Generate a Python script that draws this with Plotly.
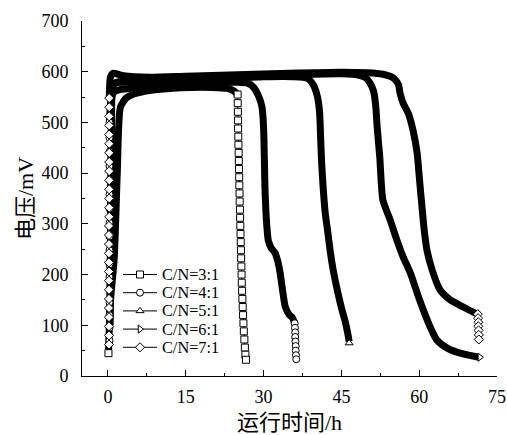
import plotly.graph_objects as go

# ---------------- data ----------------
NAMES = ["C/N=3:1", "C/N=4:1", "C/N=5:1", "C/N=6:1", "C/N=7:1"]
X_TICKS = [0, 15, 30, 45, 60, 75]
Y_TICKS = [0, 100, 200, 300, 400, 500, 600, 700]

# C/N=3:1 (squares)
T31_BAND = [0.1, 0.5, 1.2, 1.8, 2.4, 3.5, 5.0, 8.0, 12.0, 16.0, 20.0, 23.0, 24.3, 25.0]
V31_BAND = [45, 150, 230, 400, 530, 548, 556, 563, 567, 569, 569, 567, 562, 555]
T31_MARK = [25.0, 25.02, 25.05, 25.08, 25.1, 25.13, 25.16, 25.2, 25.23, 25.26, 25.3, 25.33,
            25.37, 25.4, 25.44, 25.48, 25.52, 25.56, 25.6, 25.64, 25.68, 25.72, 25.76, 25.8,
            25.86, 25.92, 25.98, 26.05, 26.12, 26.2, 26.3, 26.4, 26.5, 26.6]
V31_MARK = [555, 538, 521, 504, 488, 472, 456, 440, 424, 408, 392, 376, 360, 344, 328, 312,
            296, 280, 264, 248, 232, 216, 200, 184, 168, 152, 136, 120, 104, 88, 72, 56, 42, 32]
T31_START = [0.1]
V31_START = [45]

# C/N=4:1 (circles)
T41_COL = [0.3, 0.3, 0.3, 0.3, 0.3, 0.3, 0.3, 0.3, 0.3, 0.3, 0.3, 0.3, 0.3, 0.3, 0.3, 0.3, 0.3]
V41_COL = [70, 95, 120, 145, 170, 195, 220, 248, 275, 302, 330, 358, 386, 414, 442, 470, 500]
T41_BAND = [0.3, 0.6, 1.2, 2.5, 5.0, 10.0, 15.0, 20.0, 25.0, 27.0, 28.0, 29.2, 29.7, 30.0,
            30.3, 30.6, 30.9, 31.5, 32.2, 32.7, 33.2, 34.2, 35.0, 35.5, 36.0]
V41_BAND = [500, 545, 560, 565, 568, 573, 576, 578, 579, 577, 570, 548, 530, 491,
            361, 300, 268, 252, 243, 228, 203, 136, 120, 116, 104]
T41_TAIL = [36.0, 36.05, 36.1, 36.1, 36.15, 36.2, 36.2, 36.25, 36.3]
V41_TAIL = [104, 95, 86, 77, 68, 59, 50, 41, 33]

# C/N=5:1 (triangles up)
T51_BAND = [0.35, 0.6, 0.9, 1.5, 5.0, 10.0, 20.0, 30.0, 36.0, 38.5, 39.2, 39.8, 40.4, 40.8,
            41.0, 41.2, 41.5, 41.9, 42.3, 42.8, 43.4, 44.2, 45.0, 45.8, 46.3, 46.5]
V51_BAND = [100, 450, 570, 578, 580, 582, 586, 590, 590, 587, 580, 570, 550, 520,
            470, 420, 370, 320, 290, 250, 210, 170, 135, 105, 80, 68]
T51_TAIL = [46.5]
V51_TAIL = [65]

# C/N=6:1 (triangles right)
T61_BAND = [0.4, 0.7, 1.0, 2.0, 5.0, 15.0, 25.0, 35.0, 45.0, 48.5, 49.7, 50.5, 51.2, 51.6,
            51.9, 52.4, 53.0, 54.4, 55.7, 56.9, 58.3, 59.6, 60.8, 62.1, 63.4, 65.4, 67.9,
            71.0, 71.5]
V61_BAND = [100, 500, 575, 580, 582, 586, 590, 594, 596, 593, 588, 578, 562, 535,
            491, 432, 347, 308, 268, 235, 203, 164, 130, 97, 71, 55, 45,
            38, 37]
T61_TAIL = [71.7]
V61_TAIL = [37]

# C/N=7:1 (diamonds)
T71_COL = [0.2, 0.2, 0.2, 0.2, 0.2, 0.2, 0.2, 0.2, 0.2, 0.2, 0.2, 0.2, 0.2, 0.2, 0.25, 0.25,
           0.25, 0.25, 0.25, 0.25, 0.25, 0.25, 0.25, 0.25, 0.25, 0.25, 0.25, 0.25]
V71_COL = [62, 80, 98, 116, 134, 152, 170, 188, 206, 224, 242, 260, 278, 296, 314, 332,
           350, 368, 386, 404, 422, 440, 458, 476, 494, 512, 530, 548]
T71_BAND = [0.25, 0.5, 1.0, 3.0, 8.0, 15.0, 25.0, 35.0, 45.0, 50.0, 53.0, 55.0, 56.0, 56.3,
            56.9, 57.9, 58.8, 59.6, 60.0, 60.3, 60.6, 60.9, 61.5, 62.5, 64.0, 66.0, 68.5,
            70.4, 71.3]
V71_BAND = [548, 590, 597, 592, 589, 591, 594, 597, 599, 598, 595, 588, 575, 558,
            538, 518, 485, 440, 395, 360, 327, 294, 248, 209, 170, 150, 136,
            126, 122]
T71_TAIL = [71.3, 71.35, 71.4, 71.4, 71.45, 71.5, 71.5]
V71_TAIL = [122, 114, 106, 98, 90, 81, 72]

# ---------------- styling ----------------
FONT = "Liberation Serif, Times New Roman, Noto Sans CJK SC"
SYMBOLS = ["square", "circle", "triangle-up", "triangle-right", "diamond"]
BAND_W = 7

series = [
    (T31_BAND, V31_BAND, [(T31_START, V31_START), (T31_MARK, V31_MARK)]),
    (T41_BAND, V41_BAND, [(T41_COL, V41_COL), (T41_TAIL, V41_TAIL)]),
    (T51_BAND, V51_BAND, [(T51_TAIL, V51_TAIL)]),
    (T61_BAND, V61_BAND, [(T61_TAIL, V61_TAIL)]),
    (T71_BAND, V71_BAND, [(T71_COL, V71_COL), (T71_TAIL, V71_TAIL)]),
]

fig = go.Figure()

# thick bands (dense overlapping markers in the original)
for name, (tb, vb, _) in zip(NAMES, series):
    fig.add_trace(go.Scatter(x=tb, y=vb, mode="lines", name=name, showlegend=False,
                             line=dict(color="black", width=BAND_W, shape="spline",
                                       smoothing=0.6)))

# sparse visible markers
for name, sym, (_, _, marks) in zip(NAMES, SYMBOLS, series):
    for tm, vm in marks:
        fig.add_trace(go.Scatter(x=tm, y=vm, mode="lines+markers", name=name,
                                 showlegend=False,
                                 line=dict(color="black", width=1),
                                 marker=dict(symbol=sym, size=7, color="white",
                                             line=dict(color="black", width=1))))

# ---------------- custom legend (tight row spacing as in the original) ----------------
LEG_ROW0 = 274.5    # pixel rows on the overlay axis
LEG_STEP = 18.2
LEG_X0, LEG_XM, LEG_X1, LEG_TX = 123, 140, 157, 161
for i, (name, sym) in enumerate(zip(NAMES, SYMBOLS)):
    yy = LEG_ROW0 + i * LEG_STEP
    fig.add_trace(go.Scatter(x=[LEG_X0, LEG_X1], y=[yy, yy], mode="lines", xaxis="x2",
                             yaxis="y2", showlegend=False, hoverinfo="skip",
                             line=dict(color="black", width=1)))
    fig.add_trace(go.Scatter(x=[LEG_XM], y=[yy], mode="markers", xaxis="x2", yaxis="y2",
                             showlegend=False, hoverinfo="skip",
                             marker=dict(symbol=sym, size=7, color="white",
                                         line=dict(color="black", width=1))))
    fig.add_annotation(x=LEG_TX, y=yy, xref="x2", yref="y2", text=name, showarrow=False,
                       xanchor="left", yanchor="middle", borderpad=0,
                       font=dict(family=FONT, size=16.3, color="black"))

fig.update_layout(
    width=507, height=435,
    margin=dict(l=82, r=10, t=21, b=59),
    paper_bgcolor="white", plot_bgcolor="white",
    font=dict(family=FONT, size=18, color="black"),
    showlegend=False,
    xaxis=dict(range=[-5, 75], tickvals=X_TICKS, ticks="inside", ticklen=6,
               tickcolor="black", showline=True, linecolor="black", linewidth=1,
               showgrid=False, zeroline=False, ticklabelstandoff=4, automargin=False,
               minor=dict(ticks="inside", ticklen=3, dtick=7.5, tickcolor="black"),
               title=dict(text="运行时间/h", standoff=14)),
    yaxis=dict(range=[0, 700], tickvals=Y_TICKS, ticks="inside", ticklen=6,
               tickcolor="black", showline=True, linecolor="black", linewidth=1,
               showgrid=False, zeroline=False, ticklabelstandoff=9, automargin=False,
               minor=dict(ticks="inside", ticklen=3, dtick=50, tickcolor="black"),
               title=dict(text="电压/mV", standoff=1)),
    xaxis2=dict(range=[82, 497], overlaying="x", visible=False, fixedrange=True),
    yaxis2=dict(range=[376, 21], overlaying="y", visible=False, fixedrange=True),
)

# remove the browser's default 8px page margin so the figure sits at the window origin
fig.write_html("out.html", config={"displayModeBar": False},
               post_script="document.body.style.margin='0';")
